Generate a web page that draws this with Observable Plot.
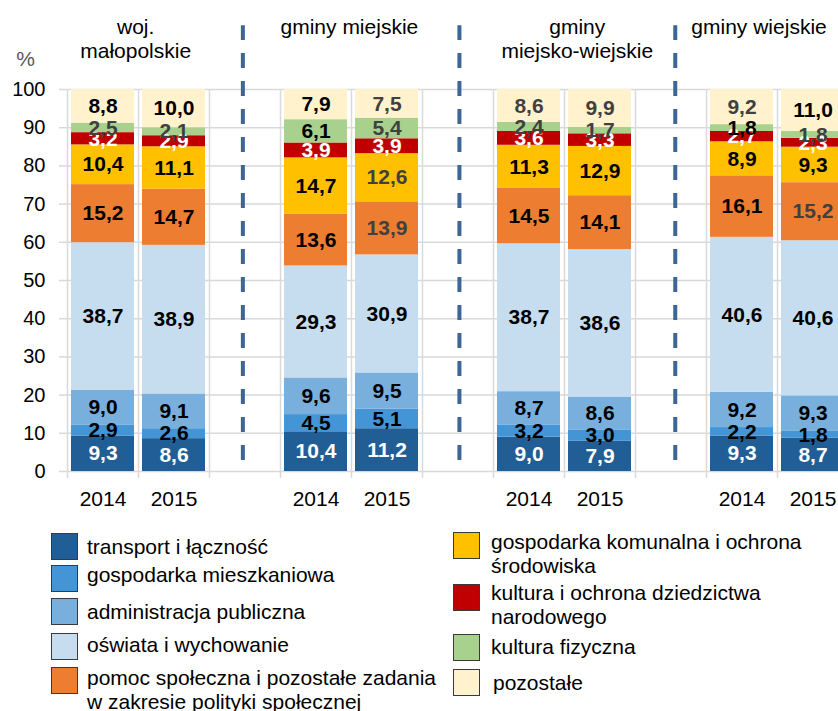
<!DOCTYPE html>
<html>
<head>
<meta charset="utf-8">
<script src="https://cdn.jsdelivr.net/npm/d3@7"></script>
<script src="https://cdn.jsdelivr.net/npm/@observablehq/plot@0.6"></script>
<style>
  html, body { margin: 0; padding: 0; background: #fff; overflow: hidden; }
  #wrap { position: relative; width: 838px; height: 711px; overflow: hidden; font-family: "Liberation Sans", Arial, sans-serif; }
  #chart { position: absolute; left: 0; top: 0; }
  #chart svg { max-width: none !important; overflow: visible; }
  .sw { position: absolute; width: 27px; height: 27px; border: 1.3px solid #3a3a3a; box-sizing: border-box; }
  .tx { position: absolute; font-size: 21px; line-height: 24px; color: #000; }
</style>
</head>
<body>
<div id="wrap">
  <div id="chart"></div>
  <div id="legend"></div>
</div>
<script>
// ---------- data ----------
const categories = [
  "transport i łączność",
  "gospodarka mieszkaniowa",
  "administracja publiczna",
  "oświata i wychowanie",
  "pomoc społeczna i pozostałe zadania w zakresie polityki społecznej",
  "gospodarka komunalna i ochrona środowiska",
  "kultura i ochrona dziedzictwa narodowego",
  "kultura fizyczna",
  "pozostałe"
];
const groups = ["woj.\nmałopolskie", "gminy miejskie", "gminy\nmiejsko-wiejskie", "gminy wiejskie"];
const years = ["2014", "2015"];

const woj2014  = [9.3, 2.9, 9.0, 38.7, 15.2, 10.4, 3.2, 2.5, 8.8];
const woj2015  = [8.6, 2.6, 9.1, 38.9, 14.7, 11.1, 2.9, 2.1, 10.0];
const gm2014   = [10.4, 4.5, 9.6, 29.3, 13.6, 14.7, 3.9, 6.1, 7.9];
const gm2015   = [11.2, 5.1, 9.5, 30.9, 13.9, 12.6, 3.9, 5.4, 7.5];
const gmw2014  = [9.0, 3.2, 8.7, 38.7, 14.5, 11.3, 3.6, 2.4, 8.6];
const gmw2015  = [7.9, 3.0, 8.6, 38.6, 14.1, 12.9, 3.3, 1.7, 9.9];
const gw2014   = [9.3, 2.2, 9.2, 40.6, 16.1, 8.9, 2.7, 1.8, 9.2];
const gw2015   = [8.7, 1.8, 9.3, 40.6, 15.2, 9.3, 2.3, 1.8, 11.0];
const series = [[woj2014, woj2015], [gm2014, gm2015], [gmw2014, gmw2015], [gw2014, gw2015]];

const yTicks = [0, 10, 20, 30, 40, 50, 60, 70, 80, 90, 100];

// ---------- styles / layout ----------
const colors = ["#215e95", "#4495d5", "#79afdd", "#c6ddf0", "#ed7d31", "#ffc000", "#c00000", "#a9d18e", "#fff2cc"];
const whiteLabelCats = new Set([0, 6]);
// labels drawn in dark grey instead of black (group-year-category)
const greyLabels = new Set(["0-0-7", "0-1-7", "1-1-4", "1-1-5", "1-1-7", "1-1-8",
  "2-0-7", "2-0-8", "2-1-7", "2-1-8", "3-0-8", "3-1-4", "3-1-7"]);
const slotsPerGroup = 3;            // 2 bars + 1 gap
const nSlots = groups.length * slotsPerGroup - 1;
const separatorShift = [-0.03, 0.02, 0.06];
const titleShift = [-0.04, -0.03, 0.18, -0.26];

// ---------- derived rows ----------
const rows = [];
series.forEach((pair, g) => pair.forEach((vals, yi) => {
  let acc = 0;
  vals.forEach((v, c) => {
    rows.push({g, yi, c, slot: g * slotsPerGroup + yi, value: v, y1: acc, y2: acc + v, cat: categories[c]});
    acc += v;
  });
}));
const boundaries = d3.range(0, nSlots + 1);
const barCenters = [];
groups.forEach((_, g) => years.forEach((_, yi) => barCenters.push(g * slotsPerGroup + yi + 0.5)));
const separators = d3.range(groups.length - 1).map(g => g * slotsPerGroup + 2.5 + separatorShift[g]);
const fmt = v => v.toFixed(1).replace(".", ",");
const font = "Liberation Sans, Arial, sans-serif";

const chart = Plot.plot({
  width: 870,
  height: 520,
  marginLeft: 67,
  marginRight: 22,
  marginTop: 89,
  marginBottom: 49,
  style: {fontFamily: font, background: "transparent"},
  x: {domain: [0, nSlots], axis: null, label: null},
  y: {domain: [0, 100], axis: null, label: null},
  color: {domain: categories, range: colors},
  marks: [
    Plot.gridY(yTicks, {stroke: "#d9d9d9", strokeOpacity: 1, strokeWidth: 1.5}),
    Plot.axisY(yTicks, {tickSize: 8, tickPadding: 14, stroke: "#d9d9d9", strokeWidth: 1.5, fill: "#000",
      fontSize: 20, label: null, tickFormat: d => String(d)}),
    Plot.ruleX(boundaries, {x: d => d, y1: 0, y2: 100, stroke: "#d9d9d9", strokeWidth: 1.5}),
    Plot.axisX(boundaries, {tickSize: 7, stroke: "#d9d9d9", strokeWidth: 1.5, label: null, tickFormat: () => ""}),
    Plot.rect(rows, {x1: "slot", x2: d => d.slot + 1, y1: "y1", y2: "y2", fill: "cat",
      insetLeft: 4, insetRight: 4}),
    Plot.text(rows, {x: d => d.slot + 0.5, y: d => (d.y1 + d.y2) / 2, text: d => fmt(d.value),
      fill: d => whiteLabelCats.has(d.c) ? "#fff" : greyLabels.has(`${d.g}-${d.yi}-${d.c}`) ? "#404040" : "#000",
      fontSize: 21, fontWeight: "bold"}),
    Plot.axisX(barCenters, {tickSize: 0, tickPadding: 20, fontSize: 21, fill: "#000", label: null,
      tickFormat: d => years[Math.floor(d) % slotsPerGroup]}),
    Plot.ruleX(separators, {x: d => d, y1: 2.9, y2: 116.7, stroke: "#3c6598", strokeWidth: 4,
      strokeDasharray: "15,13"}),
    Plot.text(groups, {x: (d, i) => i * slotsPerGroup + 1 + titleShift[i], frameAnchor: "top",
      lineAnchor: "top", dy: -72, lineHeight: 1.12, text: d => d, fontSize: 21, fill: "#000"}),
    Plot.text(["%"], {frameAnchor: "top-left", textAnchor: "middle", lineAnchor: "middle",
      dx: -42, dy: -30, fill: "#595959", fontSize: 21})
  ]
});
document.getElementById("chart").append(chart);

// ---------- legend (HTML) ----------
// [swatchLeft, swatchTop, textLeft, textTop, textWidth]
const legendLayout = [
  [51, 533, 87, 535, 360],
  [51, 565, 87, 563, 360],
  [51, 598, 87, 600, 360],
  [51, 633, 87, 633, 360],
  [51, 667, 87, 666, 370],
  [453, 532, 491, 530, 330],
  [453, 584, 491, 581, 330],
  [453, 634, 491, 635, 330],
  [453, 669, 493, 671, 330]
];
const legend = document.getElementById("legend");
categories.forEach((name, i) => {
  const [sx, sy, tx, ty, tw] = legendLayout[i];
  const sw = document.createElement("div");
  sw.className = "sw";
  sw.style.left = sx + "px"; sw.style.top = sy + "px"; sw.style.background = colors[i];
  const t = document.createElement("div");
  t.className = "tx";
  t.style.left = tx + "px"; t.style.top = ty + "px"; t.style.width = tw + "px";
  t.textContent = name;
  legend.append(sw, t);
});
</script>
</body>
</html>
